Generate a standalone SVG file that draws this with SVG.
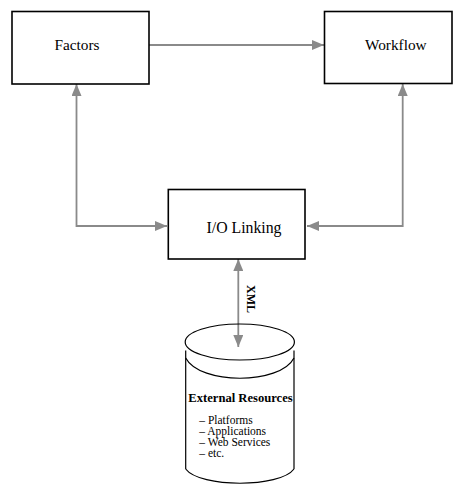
<svg xmlns="http://www.w3.org/2000/svg" width="453" height="484" viewBox="0 0 453 484">
<defs>
<style>
.box{fill:#fff;stroke:#000;stroke-width:1.6}
.lbl{font-size:15.3px;fill:#000;text-anchor:middle}
.conn{fill:none;stroke:#8a8a8a;stroke-width:1.8}
.cyl{fill:none;stroke:#000;stroke-width:1.2}
.bold{font-weight:bold;fill:#000}
.item{font-size:11.5px;fill:#000}
</style>
<marker id="ah" viewBox="0 0 12 10" refX="12" refY="5" markerWidth="12" markerHeight="10" markerUnits="userSpaceOnUse" orient="auto-start-reverse">
<path d="M0,0 L12,5 L0,10 z" fill="#8a8a8a"/>
</marker>
</defs>
<rect width="453" height="484" fill="#fff"/>
<g id="connectors">
<line class="conn" x1="149" y1="45" x2="324" y2="45" marker-end="url(#ah)"/>
<polyline class="conn" points="167,226 76.5,226 76.5,84" marker-start="url(#ah)" marker-end="url(#ah)"/>
<polyline class="conn" points="307,226 402.7,226 402.7,84" marker-start="url(#ah)" marker-end="url(#ah)"/>
<line class="conn" x1="238.3" y1="259" x2="238.3" y2="347" marker-start="url(#ah)" marker-end="url(#ah)"/>
<text class="bold" font-family="'Liberation Serif', 'Times New Roman', serif" font-size="12" transform="translate(246.5,285) rotate(90)">XML</text>
</g>
<g id="factors">
<rect class="box" x="12" y="11.5" width="137" height="72.5"/>
<text class="lbl" font-family="'Liberation Serif', 'Times New Roman', serif" x="77" y="50">Factors</text>
</g>
<g id="workflow">
<rect class="box" x="324.5" y="11.5" width="127.5" height="72"/>
<text class="lbl" font-family="'Liberation Serif', 'Times New Roman', serif" x="395.8" y="50">Workflow</text>
</g>
<g id="io-linking">
<rect class="box" x="168.3" y="189.5" width="136.7" height="69.5"/>
<text class="lbl" font-family="'Liberation Serif', 'Times New Roman', serif" x="244" y="233" style="font-size:15.8px">I/O Linking</text>
</g>
<g id="external-resources">
<ellipse class="cyl" cx="239.8" cy="342" rx="54.6" ry="18"/>
<line class="cyl" x1="185.7" y1="350.5" x2="185.7" y2="469"/>
<line class="cyl" x1="294" y1="350.5" x2="294" y2="469"/>
<path class="cyl" d="M185.7,358 C200,385 280,385 294,358"/>
<path class="cyl" d="M185.7,469 C200,488 280,488 294,469"/>
<text class="bold" font-family="'Liberation Serif', 'Times New Roman', serif" font-size="12.6" x="240.5" y="402" text-anchor="middle">External Resources</text>
<text class="item" font-family="'Liberation Serif', 'Times New Roman', serif" x="199.3" y="424">– Platforms</text>
<text class="item" font-family="'Liberation Serif', 'Times New Roman', serif" x="199.3" y="435">– Applications</text>
<text class="item" font-family="'Liberation Serif', 'Times New Roman', serif" x="199.3" y="446">– Web Services</text>
<text class="item" font-family="'Liberation Serif', 'Times New Roman', serif" x="199.3" y="457">– etc.</text>
</g>
</svg>
